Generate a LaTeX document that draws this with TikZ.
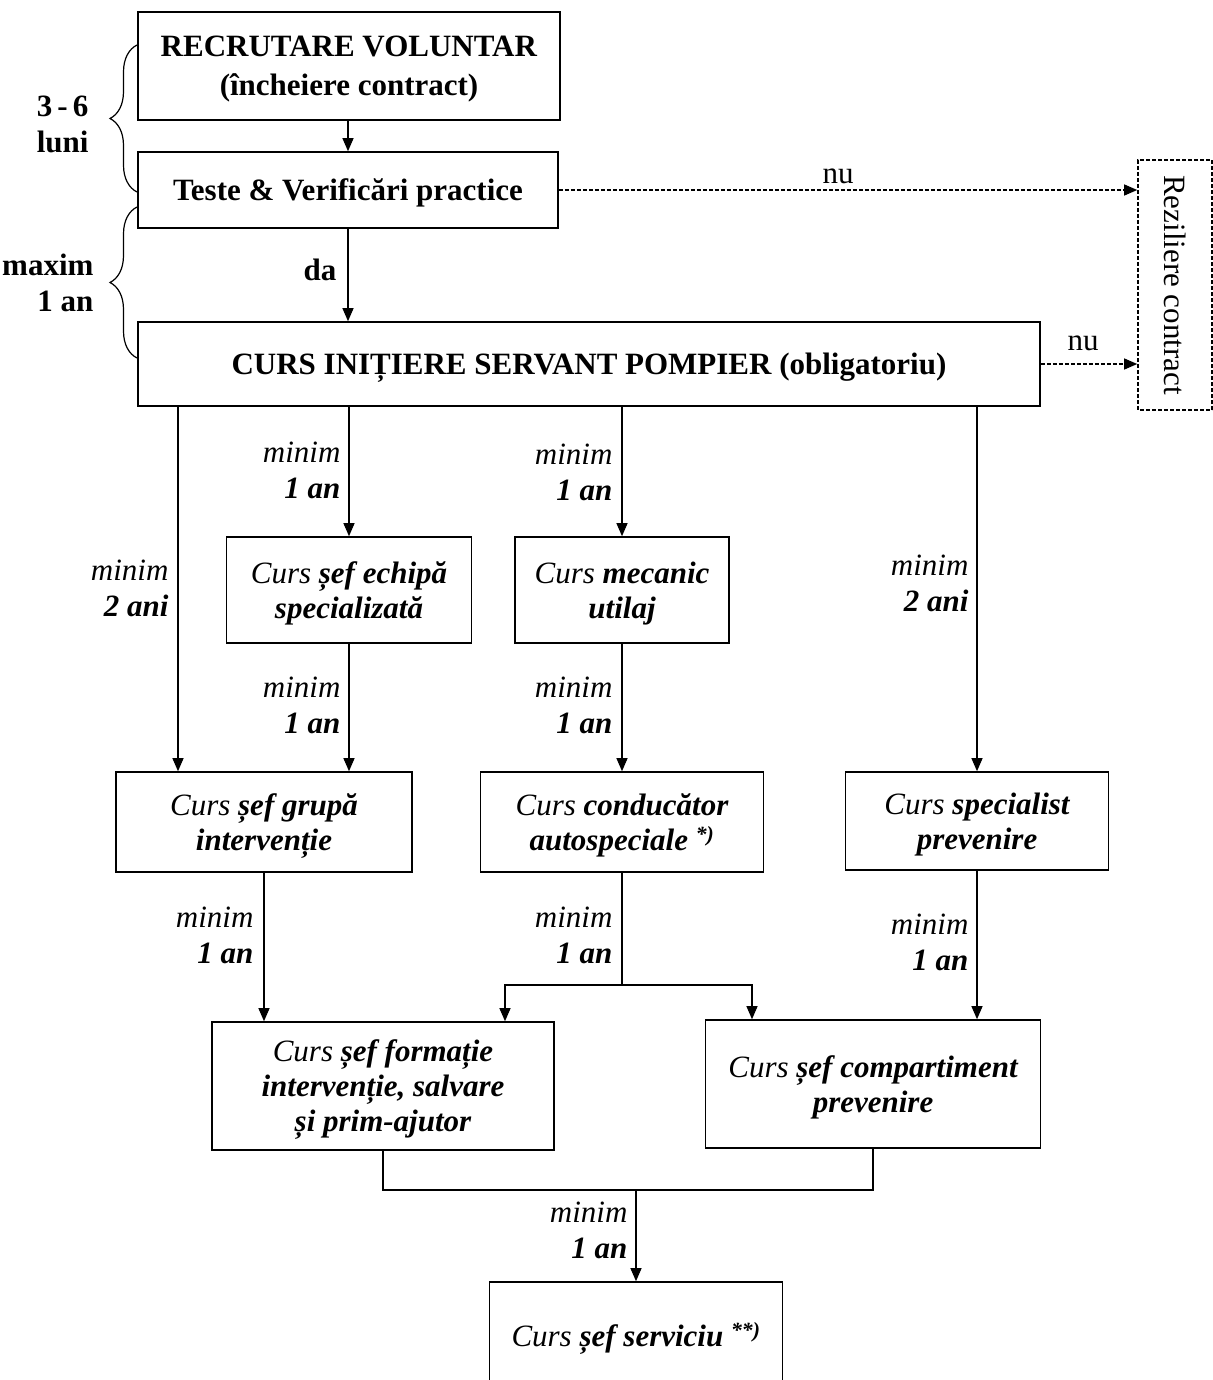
\documentclass[tikz,border=0pt]{standalone}
\usepackage{fontspec}
\setmainfont{Liberation Serif}
\usepackage{tikz}
\usetikzlibrary{positioning,arrows.meta,decorations.pathreplacing}

\tikzset{
  every node/.style={font=\fontsize{31}{36}\selectfont},
  box/.style={draw, line width=1.6pt, align=center, inner sep=0pt, text depth=-3pt},
  curs/.style={box, font=\fontsize{31}{35}\selectfont\itshape},
  arr/.style={-{Triangle[length=13pt,width=11pt]}, line width=1.1pt},
  nuarr/.style={arr, dash pattern=on 4pt off 2pt},
  lbl/.style={align=right, anchor=east, font=\fontsize{31}{36}\selectfont\itshape},
  acolada/.style={decorate, decoration={brace, amplitude=27pt}, line width=1.2pt},
}

\begin{document}
\begin{tikzpicture}[x=1pt,y=-1pt]
\useasboundingbox (0,0) rectangle (1212,1380);

% top
\node[box, minimum width=422, minimum height=108] (recr) at (349,66) {\textbf{RECRUTARE VOLUNTAR}\\[3pt]\textbf{(încheiere contract)}};
\node[box, minimum width=420, minimum height=76] (teste) at (348,190) {\textbf{Teste \& Verificări practice}};
\node[box, minimum width=902, minimum height=84] (init) at (589,364) {\textbf{CURS INIȚIERE SERVANT POMPIER (obligatoriu)}};
\node[box, text depth=, dash pattern=on 4pt off 2pt, rotate=-90, minimum width=250, minimum height=74] (rez) at (1175,285) {Reziliere contract};

% cursuri
\node[curs, minimum width=245, minimum height=106] (echipa) at (349,590) {Curs \textbf{șef echipă}\\\textbf{specializată}};
\node[curs, minimum width=214, minimum height=106] (mecanic) at (622,590) {Curs \textbf{mecanic}\\\textbf{utilaj}};
\node[curs, minimum width=296, minimum height=100] (grupa) at (264,822) {Curs \textbf{șef grupă}\\\textbf{intervenție}};
\node[curs, minimum width=283, minimum height=100] (cond) at (622,822) {Curs \textbf{conducător}\\\textbf{autospeciale} \textsuperscript{\textbf{*)}}};
\node[curs, minimum width=263, minimum height=98] (spec) at (977,821) {Curs \textbf{specialist}\\\textbf{prevenire}};
\node[curs, minimum width=342, minimum height=128] (form) at (383,1086) {Curs \textbf{șef formație}\\\textbf{intervenție, salvare}\\\textbf{și prim-ajutor}};
\node[curs, minimum width=335, minimum height=128] (comp) at (873,1084) {Curs \textbf{șef compartiment}\\\textbf{prevenire}};
\node[curs, text depth=, minimum width=293, minimum height=112] (serv) at (636,1338) {Curs \textbf{șef serviciu} \textsuperscript{\textbf{**)}}};

\coordinate (c1) at (178,0);
\coordinate (c6) at (505,0);
\coordinate (c7) at (752,0);
\coordinate (split) at (622,985);
\coordinate (merge) at (636,1190);

% legaturi
\draw[arr] (recr.south -| teste.north) -- (teste.north);
\draw[arr] (teste.south) -- (init.north -| teste.south);
\draw[nuarr] (teste.east) -- (rez.south |- teste.east);
\draw[nuarr] (init.east) -- (rez.south |- init.east);
\draw[arr] (init.south -| c1) -- (grupa.north -| c1);
\draw[arr] (init.south -| echipa.north) -- (echipa.north);
\draw[arr] (init.south -| mecanic.north) -- (mecanic.north);
\draw[arr] (init.south -| spec.north) -- (spec.north);
\draw[arr] (echipa.south) -- (grupa.north -| echipa.south);
\draw[arr] (mecanic.south) -- (cond.north);
\draw[arr] (grupa.south) -- (form.north -| grupa.south);
\draw[line width=1.1pt] (cond.south) -- (split);
\draw[arr] (split) -| (c6 |- form.north);
\draw[arr] (split) -| (c7 |- comp.north);
\draw[arr] (spec.south) -- (comp.north -| spec.south);
\draw[line width=1.1pt] (form.south) |- (merge) -| (comp.south);
\draw[arr] (merge) -- (serv.north);

% etichete
\node[font=\fontsize{31}{36}\selectfont\bfseries] (da) at (320,270) {da};
\node (nu1) at (838,176) {nu};
\node (nu2) at (1083,343) {nu};
\node[lbl] (t1) at (172,588) {minim\\\textbf{2 ani}};
\node[lbl] (t2) at (344,470) {minim\\\textbf{1 an}};
\node[lbl] (t3) at (616,472) {minim\\\textbf{1 an}};
\node[lbl] (t4) at (972,583) {minim\\\textbf{2 ani}};
\node[lbl] (t5) at (344,705) {minim\\\textbf{1 an}};
\node[lbl] (t6) at (616,705) {minim\\\textbf{1 an}};
\node[lbl] (t7) at (257,935) {minim\\\textbf{1 an}};
\node[lbl] (t8) at (616,935) {minim\\\textbf{1 an}};
\node[lbl] (t9) at (972,942) {minim\\\textbf{1 an}};
\node[lbl] (t10) at (631,1230) {minim\\\textbf{1 an}};

% acolade
\draw[acolada] (137,192) -- (137,45);
\draw[acolada] (137,358) -- (137,207);
\node[align=right, anchor=east, font=\fontsize{31}{36}\selectfont\bfseries] (luni) at (92,124) {3\,-\,6\\luni};
\node[align=right, anchor=east, font=\fontsize{31}{36}\selectfont\bfseries] (maxim) at (97,283) {maxim\\1 an};
\end{tikzpicture}
\end{document}
